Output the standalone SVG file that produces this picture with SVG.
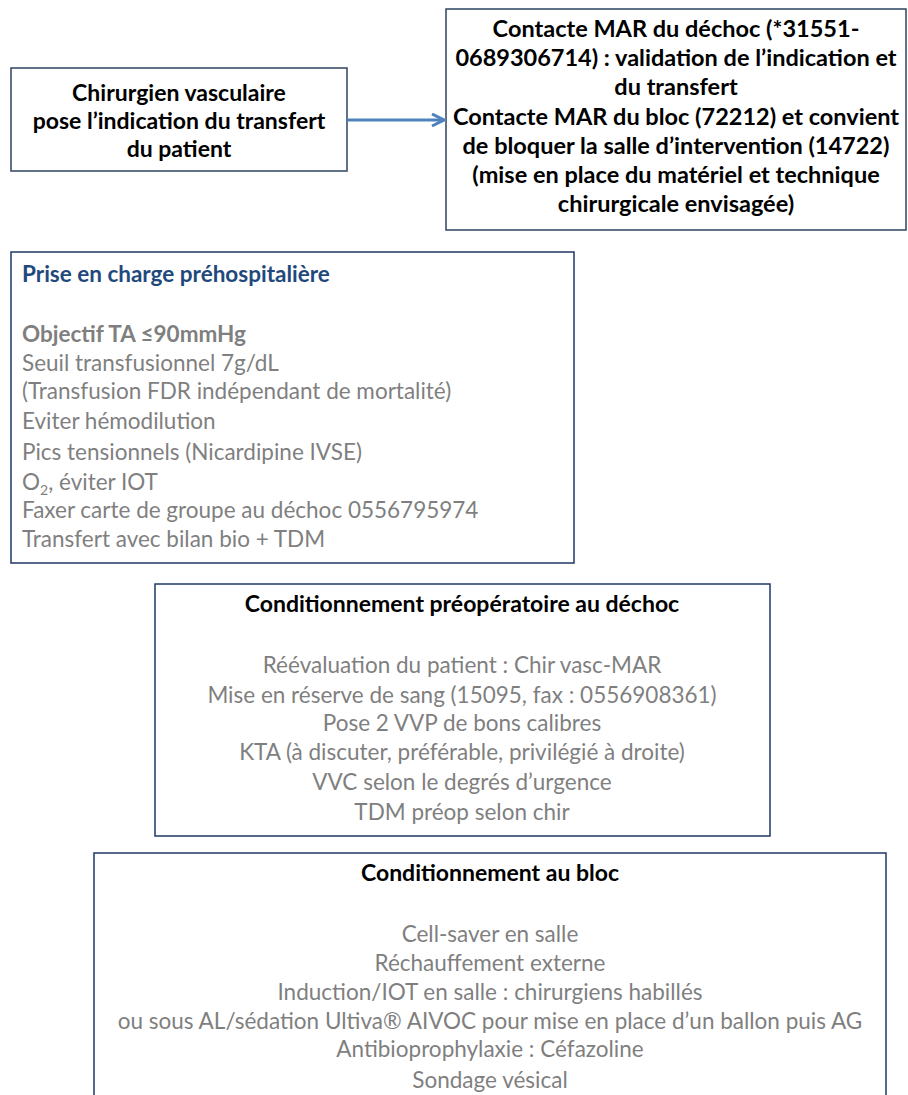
<svg xmlns="http://www.w3.org/2000/svg" width="908" height="1095" viewBox="0 0 908 1095">
<style>
text{font-family:Lato,"Liberation Sans",sans-serif;font-size:22.5px}
.b{font-weight:bold;fill:#000;font-size:23px}
.b2{font-size:23.5px}
.g{fill:#7F7F7F}
.gb{fill:#7F7F7F;font-weight:bold;font-size:22.5px}
.t{fill:#1F497D;font-weight:bold;font-size:22.5px}
.c{text-anchor:middle}
.box1{fill:#fff;stroke:#2E4460;stroke-width:1.5}
.box2{fill:#fff;stroke:#1F3864;stroke-width:1.5}
.conn{stroke:#4F81BD;stroke-width:3;fill:none}
</style>
<defs>
<marker id="arr" viewBox="0 0 10 10" refX="9" refY="5" markerWidth="5" markerHeight="5" orient="auto" markerUnits="strokeWidth">
<path d="M1,1 L9,5 L1,9" fill="none" stroke="#4F81BD" stroke-width="2"/>
</marker>
</defs>
<rect width="908" height="1095" fill="#fff"/>
<g id="n1">
<rect class="box1" x="11" y="68" width="336" height="103"/>
<text class="b c" x="179" y="101">Chirurgien vasculaire</text>
<text class="b c" x="179" y="129">pose l’indication du transfert</text>
<text class="b c" x="179" y="157">du patient</text>
</g>
<g id="n2">
<rect class="box1" x="446" y="9" width="460" height="221"/>
<text class="b b2 c" x="676" y="37">Contacte MAR du déchoc (*31551-</text>
<text class="b b2 c" x="676" y="66">0689306714) : validation de l’indication et</text>
<text class="b b2 c" x="676" y="95">du transfert</text>
<text class="b b2 c" x="676" y="125">Contacte MAR du bloc (72212) et convient</text>
<text class="b b2 c" x="676" y="154">de bloquer la salle d’intervention (14722)</text>
<text class="b b2 c" x="676" y="183">(mise en place du matériel et technique</text>
<text class="b b2 c" x="676" y="212">chirurgicale envisagée)</text>
</g>
<g id="n3">
<rect class="box2" x="11" y="252" width="563" height="311"/>
<text class="t" x="22" y="282">Prise en charge préhospitalière</text>
<text class="gb" x="22" y="342">Objectif TA ≤90mmHg</text>
<text class="g" x="22" y="371">Seuil transfusionnel 7g/dL</text>
<text class="g" x="22" y="399">(Transfusion FDR indépendant de mortalité)</text>
<text class="g" x="22" y="429">Eviter hémodilution</text>
<text class="g" x="22" y="460">Pics tensionnels (Nicardipine IVSE)</text>
<text class="g" x="22" y="490">O<tspan font-size="14" dy="5">2</tspan><tspan dy="-5">, éviter IOT</tspan></text>
<text class="g" x="22" y="518">Faxer carte de groupe au déchoc 0556795974</text>
<text class="g" x="22" y="547">Transfert avec bilan bio + TDM</text>
</g>
<g id="n4">
<rect class="box2" x="155" y="584" width="615" height="252"/>
<text class="b c" x="462" y="612">Conditionnement préopératoire au déchoc</text>
<text class="g c" x="462" y="673">Réévaluation du patient : Chir vasc-MAR</text>
<text class="g c" x="462" y="703">Mise en réserve de sang (15095, fax : 0556908361)</text>
<text class="g c" x="462" y="731">Pose 2 VVP de bons calibres</text>
<text class="g c" x="462" y="760">KTA (à discuter, préférable, privilégié à droite)</text>
<text class="g c" x="462" y="790">VVC selon le degrés d’urgence</text>
<text class="g c" x="462" y="820">TDM préop selon chir</text>
</g>
<g id="n5">
<rect class="box2" x="94" y="853" width="792" height="260"/>
<text class="b c" x="490" y="881">Conditionnement au bloc</text>
<text class="g c" x="490" y="942">Cell-saver en salle</text>
<text class="g c" x="490" y="971">Réchauffement externe</text>
<text class="g c" x="490" y="1000">Induction/IOT en salle : chirurgiens habillés</text>
<text class="g c" x="490" y="1029">ou sous AL/sédation Ultiva® AIVOC pour mise en place d’un ballon puis AG</text>
<text class="g c" x="490" y="1057">Antibioprophylaxie : Céfazoline</text>
<text class="g c" x="490" y="1088">Sondage vésical</text>
</g>
<g id="connectors">
<line class="conn" x1="347" y1="120" x2="444" y2="120" marker-end="url(#arr)"/>
</g>
</svg>
